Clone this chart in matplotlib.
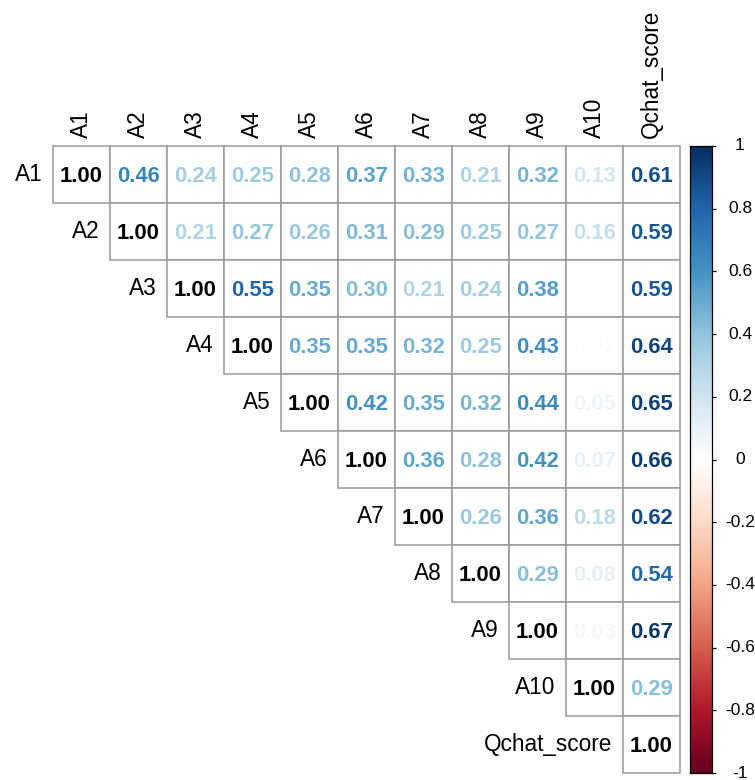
import numpy as np
import matplotlib
matplotlib.use('Agg')
from matplotlib import pyplot as plt
from matplotlib.colors import LinearSegmentedColormap, Normalize
from matplotlib.patches import Rectangle

plt.rcParams['font.family'] = ['Liberation Sans', 'DejaVu Sans']

labels = ['A1', 'A2', 'A3', 'A4', 'A5', 'A6', 'A7', 'A8', 'A9', 'A10', 'Qchat_score']

# upper triangle, row by row (diagonal first)
row_a1 = [1.00, 0.46, 0.24, 0.25, 0.28, 0.37, 0.33, 0.21, 0.32, 0.13, 0.61]
row_a2 = [1.00, 0.21, 0.27, 0.26, 0.31, 0.29, 0.25, 0.27, 0.16, 0.59]
row_a3 = [1.00, 0.55, 0.35, 0.30, 0.21, 0.24, 0.38, 0.00, 0.59]
row_a4 = [1.00, 0.35, 0.35, 0.32, 0.25, 0.43, 0.02, 0.64]
row_a5 = [1.00, 0.42, 0.35, 0.32, 0.44, 0.05, 0.65]
row_a6 = [1.00, 0.36, 0.28, 0.42, 0.07, 0.66]
row_a7 = [1.00, 0.26, 0.36, 0.18, 0.62]
row_a8 = [1.00, 0.29, 0.08, 0.54]
row_a9 = [1.00, 0.03, 0.67]
row_a10 = [1.00, 0.29]
row_q = [1.00]
rows = [row_a1, row_a2, row_a3, row_a4, row_a5, row_a6, row_a7, row_a8, row_a9, row_a10, row_q]

bar_ticks = [1, 0.8, 0.6, 0.4, 0.2, 0, -0.2, -0.4, -0.6, -0.8, -1]

# corrplot's default red-blue palette
col2 = ["#67001F", "#B2182B", "#D6604D", "#F4A582", "#FDDBC7", "#FFFFFF",
        "#D1E5F0", "#92C5DE", "#4393C3", "#2166AC", "#053061"]
cmap = LinearSegmentedColormap.from_list('corr', col2, N=200)
norm = Normalize(-1, 1)
txt_norm = Normalize(-0.69, 0.69, clip=True)  # numbers look darker than the bar

W, H = 755, 780
fig = plt.figure(figsize=(W / 100, H / 100), dpi=100)
n = len(labels)
x0, x1, y0, y1 = 53, 680, 146, 773
ax = fig.add_axes([x0 / W, 1 - y1 / H, (x1 - x0) / W, (y1 - y0) / H])
ax.set_xlim(0, n)
ax.set_ylim(n, 0)
ax.axis('off')

for i, vals in enumerate(rows):
    for k, v in enumerate(vals):
        j = i + k
        ax.add_patch(Rectangle((j, i), 1, 1, facecolor='white', edgecolor='#9a9a9a',
                               lw=1.1, clip_on=False))
        c = 'black' if k == 0 else cmap(txt_norm(v))
        ax.text(j + 0.5, i + 0.53, '%.2f' % v, ha='center', va='center',
                fontsize=15.8, fontweight='bold', color=c)

for i, lab in enumerate(labels):
    ax.text(i + 0.5, -0.14, lab, rotation=90, ha='center', va='bottom',
            fontsize=16.3, clip_on=False)
    ax.text(i - 0.18, i + 0.5, lab, ha='right', va='center', fontsize=16.3,
            clip_on=False)

# colour bar
cax = fig.add_axes([690 / W, 1 - y1 / H, 22 / W, (y1 - y0) / H])
grad = np.linspace(-1, 1, 200).reshape(-1, 1)
cax.imshow(grad, cmap=cmap, norm=norm, aspect='auto', origin='lower',
           extent=[0, 1, -1, 1])
cax.set_xticks([])
cax.yaxis.tick_right()
cax.set_yticks(bar_ticks)
cax.set_yticklabels([])
cax.tick_params(axis='y', length=3, width=0.9)
for t in bar_ticks:
    cax.text(2.27, t, '%g' % t, transform=cax.get_yaxis_transform(),
             ha='center', va='center', fontsize=12.5, clip_on=False)
for s in cax.spines.values():
    s.set_linewidth(0.9)

fig.savefig('out.png', dpi=100)
